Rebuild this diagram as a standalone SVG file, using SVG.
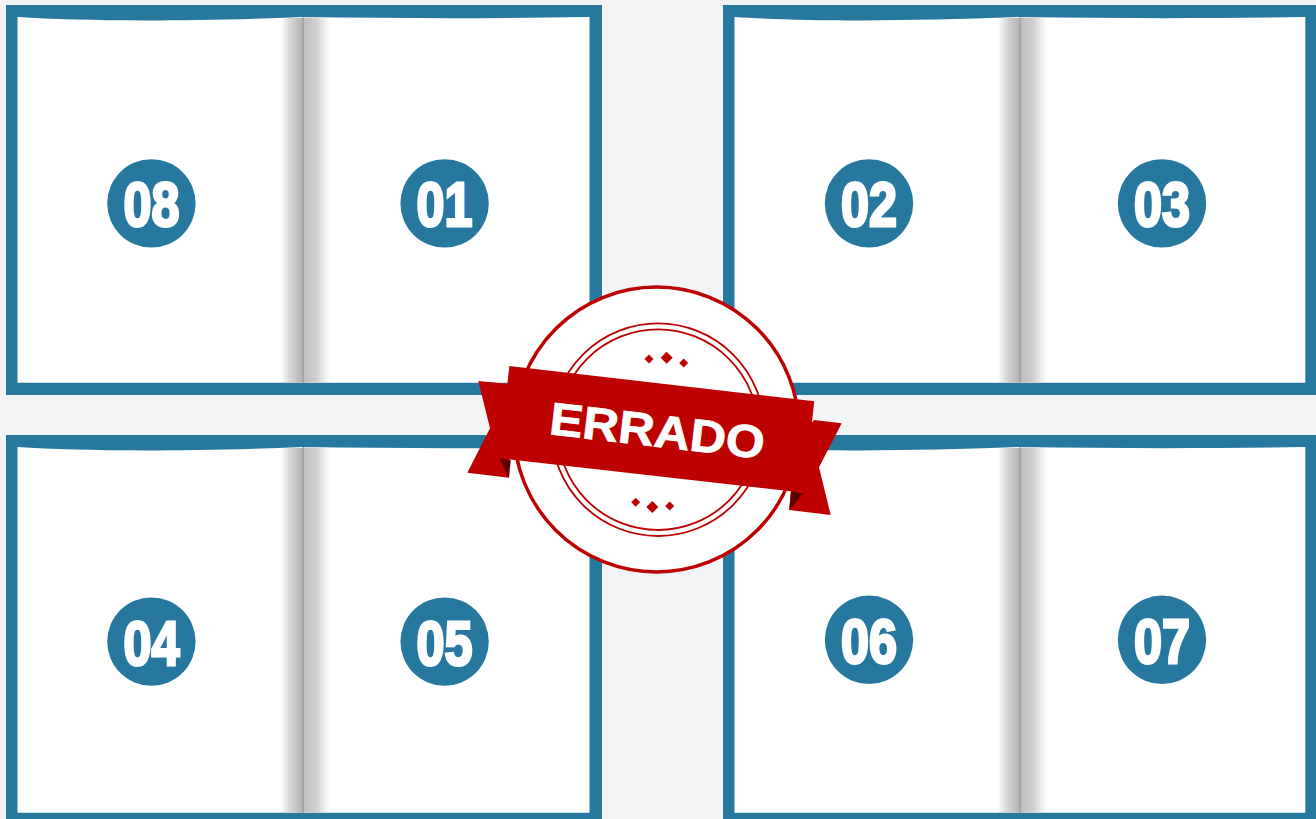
<svg xmlns="http://www.w3.org/2000/svg" xmlns:xlink="http://www.w3.org/1999/xlink" width="1316" height="819" viewBox="0 0 1316 819">
<style>
.num{font-family:"Liberation Sans","Arial",sans-serif;font-weight:700;font-size:63px;fill:#fff;stroke:#fff;stroke-width:3;stroke-linejoin:miter;text-anchor:middle}
.disc{fill:#27789f}
.blue{fill:#27789f}
.red{fill:#bd0000}
.ring{fill:none;stroke:#bd0000}
</style>
<defs>
<linearGradient id="shL" x1="0" x2="1" y1="0" y2="0"><stop offset="0" stop-color="#b8b8b8" stop-opacity="0"/><stop offset="0.5" stop-color="#c4c4c4" stop-opacity=".8"/><stop offset="1" stop-color="#b0b0b0"/></linearGradient>
<linearGradient id="shR" x1="0" x2="1" y1="0" y2="0"><stop offset="0" stop-color="#bdbdbd"/><stop offset="0.5" stop-color="#cfcfcf"/><stop offset="1" stop-color="#d6d6d6" stop-opacity="0"/></linearGradient>
<g id="panel">
<rect class="blue" x="6" y="5" width="596" height="390"/>
<path d="M17.500 17 C80 21 180 22 303 17 C400 18.500 500 18.500 589.500 17 V382.700 H17.500 Z" fill="#fff"/>
<rect x="281" y="18" width="22" height="364.700" fill="url(#shL)"/>
<rect x="303" y="17.500" width="27" height="365.200" fill="url(#shR)"/>
<rect x="302.500" y="17" width="1.500" height="365.700" fill="#a2a2a2"/>
</g>
</defs>
<rect width="1316" height="819" fill="#f2f3f5"/>
<g id="connectors"/>
<g id="spread-top-left"><use href="#panel"/></g>
<g id="spread-top-right"><use href="#panel" x="717"/><rect class="blue" x="1305.300" y="5" width="11" height="390"/></g>
<g id="spread-bottom-left"><use href="#panel" y="430"/></g>
<g id="spread-bottom-right"><use href="#panel" x="717" y="430"/><rect class="blue" x="1305.300" y="435" width="11" height="384"/></g>
<g id="n08"><circle class="disc" cx="151.400" cy="203.400" r="44.200"/><text class="num" x="151.400" y="226" textLength="56" lengthAdjust="spacingAndGlyphs">08</text></g>
<g id="n01"><circle class="disc" cx="444.600" cy="203.400" r="44.200"/><text class="num" x="444.600" y="226" textLength="56" lengthAdjust="spacingAndGlyphs">01</text></g>
<g id="n02"><circle class="disc" cx="869" cy="203.400" r="44.200"/><text class="num" x="869" y="226" textLength="56" lengthAdjust="spacingAndGlyphs">02</text></g>
<g id="n03"><circle class="disc" cx="1162" cy="203.400" r="44.200"/><text class="num" x="1162" y="226" textLength="56" lengthAdjust="spacingAndGlyphs">03</text></g>
<g id="n04"><circle class="disc" cx="151.400" cy="641.600" r="44.200"/><text class="num" x="151.400" y="664.500" textLength="56" lengthAdjust="spacingAndGlyphs">04</text></g>
<g id="n05"><circle class="disc" cx="444.600" cy="641.600" r="44.200"/><text class="num" x="444.600" y="664.500" textLength="56" lengthAdjust="spacingAndGlyphs">05</text></g>
<g id="n06"><circle class="disc" cx="869" cy="639.800" r="44.200"/><text class="num" x="869" y="662.500" textLength="56" lengthAdjust="spacingAndGlyphs">06</text></g>
<g id="n07"><circle class="disc" cx="1162" cy="639.800" r="44.200"/><text class="num" x="1162" y="662.500" textLength="56" lengthAdjust="spacingAndGlyphs">07</text></g>
<g id="stamp">
<circle cx="656.500" cy="429.500" r="142.500" fill="#fff" stroke="#bd0000" stroke-width="3.500"/>
<circle class="ring" cx="658" cy="429.700" r="106.300" stroke-width="1.800"/>
<circle class="ring" cx="658" cy="429.700" r="100.300" stroke-width="1.800"/>
<polygon class="red" points="649,354.500 653.500,359 649,363.500 644.500,359"/>
<polygon class="red" points="666.700,351.700 672.700,357.700 666.700,363.700 660.700,357.700"/>
<polygon class="red" points="683.700,358.500 688.200,363 683.700,367.500 679.200,363"/>
<polygon class="red" points="635.700,497.800 640.200,502.300 635.700,506.800 631.200,502.300"/>
<polygon class="red" points="652.300,501 658.300,507 652.300,513 646.300,507"/>
<polygon class="red" points="669.700,501.500 674.200,506 669.700,510.500 665.200,506"/>
<polygon class="red" points="478.300,381 510,384 509,477.700 467.300,472.700 490,428.300"/>
<polygon class="red" points="814.300,420 841.700,423.300 819,467.300 830.700,515 789.300,510 795,440"/>
<polygon fill="#5e0000" points="499.300,458.300 510.700,460 509,477.700"/>
<polygon fill="#5e0000" points="803.300,493.300 791,491.700 789.300,510"/>
<polygon class="red" points="509.300,366 814.300,401.300 804,492.700 499.300,458.300"/>
<text x="0" y="0" transform="translate(655.500,446.500) rotate(6.600)" font-family="Liberation Sans, Arial, sans-serif" font-weight="700" font-size="46" fill="#fff" stroke="#fff" stroke-width=".8" text-anchor="middle" textLength="216" lengthAdjust="spacingAndGlyphs">ERRADO</text>
</g>
</svg>
